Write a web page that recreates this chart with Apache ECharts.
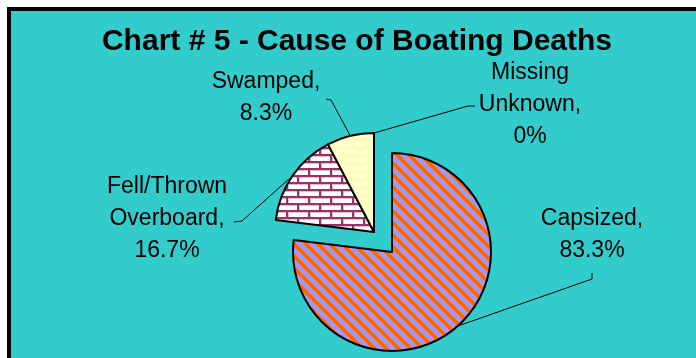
<!DOCTYPE html>
<html>
<head>
<meta charset="utf-8">
<script src="https://cdn.jsdelivr.net/npm/echarts@6/dist/echarts.min.js"></script>
<style>
html,body{margin:0;padding:0;background:#fff;}
#chart{width:696px;height:358px;}
</style>
</head>
<body>
<div id="chart"></div>
<script>
// ---- data ----
var titleText = 'Chart # 5 - Cause of Boating Deaths';
var categories = ['Capsized', 'Fell/Thrown\nOverboard', 'Swamped', 'Missing\nUnknown'];
var counts = [10, 2, 1, 0];
var percentLabels = ['83.3%', '16.7%', '8.3%', '0%'];
var explodedIndex = 0;

// ---- patterns ----
function makeCanvas(w, h) {
  var c = document.createElement('canvas');
  c.width = w; c.height = h;
  return c;
}
function stripePattern() {
  var n = 12, c = makeCanvas(n, n), ctx = c.getContext('2d');
  var img = ctx.createImageData(n, n);
  for (var y = 0; y < n; y++) for (var x = 0; x < n; x++) {
    var d = ((x - y) % n + n) % n;
    var o = (y * n + x) * 4;
    if (d < 5) { img.data[o] = 255; img.data[o+1] = 102; img.data[o+2] = 0; }
    else { img.data[o] = 153; img.data[o+1] = 153; img.data[o+2] = 255; }
    img.data[o+3] = 255;
  }
  ctx.putImageData(img, 0, 0);
  return c;
}
function brickPattern() {
  var w = 22, h = 14, c = makeCanvas(w, h), ctx = c.getContext('2d');
  ctx.fillStyle = '#ffffff'; ctx.fillRect(0, 0, w, h);
  ctx.fillStyle = '#e3bcd3';
  ctx.fillRect(0, 2, w, 1); ctx.fillRect(0, 9, w, 1);
  ctx.fillRect(2, 0, 1, 7); ctx.fillRect(13, 7, 1, 7);
  ctx.fillStyle = '#993366';
  ctx.fillRect(0, 0, w, 2); ctx.fillRect(0, 7, w, 2);
  ctx.fillRect(0, 0, 2, 7); ctx.fillRect(11, 7, 2, 7);
  return c;
}
function zigzagPattern() {
  var w = 12, h = 8, c = makeCanvas(w, h), ctx = c.getContext('2d');
  ctx.fillStyle = '#ffffd4'; ctx.fillRect(0, 0, w, h);
  ctx.strokeStyle = '#ffff99'; ctx.lineWidth = 1.5;
  ctx.beginPath(); ctx.moveTo(0, 6); ctx.lineTo(6, 2); ctx.lineTo(12, 6); ctx.stroke();
  return c;
}
var fills = [
  {image: stripePattern(), repeat: 'repeat'},
  {image: brickPattern(), repeat: 'repeat'},
  {image: zigzagPattern(), repeat: 'repeat'},
  '#ffffcc'
];

// label placement (layout only)
var labelPos = [[592, 235], [167, 219], [266, 98], [530, 105]];
var guideTail = [
  [[592, 279], [592, 273]],
  [[242, 221], [234, 222]],
  [[331, 100], [326, 99]],
  [[468, 106], [475, 106]]
];

function buildData(showExploded) {
  return categories.map(function (name, i) {
    var visible = (i === explodedIndex) === showExploded;
    return {
      name: name,
      value: counts[i],
      itemStyle: visible
        ? {color: fills[i], borderColor: '#000', borderWidth: 2}
        : {color: 'rgba(0,0,0,0)', borderWidth: 0},
      label: {show: visible},
      labelLine: {show: visible}
    };
  });
}

function pieSeries(center, showExploded) {
  return {
    type: 'pie',
    center: center,
    radius: 99,
    startAngle: 90,
    clockwise: true,
    avoidLabelOverlap: false,
    minShowLabelAngle: 0,
    silent: true,
    emphasis: {disabled: true},
    label: {
      position: 'outside',
      formatter: function (p) { return p.name + ',\n' + percentLabels[p.dataIndex]; },
      fontFamily: 'Liberation Sans', fontSize: 23, lineHeight: 32, color: '#000',
      align: 'center'
    },
    labelLine: {length: 10, length2: 10, smooth: false, lineStyle: {color: '#000', width: 1}},
    labelLayout: function (params) {
      var i = params.dataIndex;
      var pts = params.labelLinePoints;
      var start = pts && pts[0] ? pts[0] : null;
      var out = {
        x: labelPos[i][0], y: labelPos[i][1],
        align: 'center', verticalAlign: 'middle',
        hideOverlap: false, moveOverlap: null
      };
      if (start) out.labelLinePoints = [start, guideTail[i][0], guideTail[i][1]];
      return out;
    },
    data: buildData(showExploded)
  };
}

var chart = echarts.init(document.getElementById('chart'), null, {renderer: 'canvas'});
chart.setOption({
  animation: false,
  backgroundColor: '#ffffff',
  graphic: [{
    type: 'rect', z: 0, silent: true,
    shape: {x: 9, y: 9, width: 720, height: 380},
    style: {fill: '#33CCCC', stroke: '#000000', lineWidth: 4}
  }],
  title: {
    text: titleText,
    left: 357, top: 27, textAlign: 'center', padding: 0,
    textStyle: {fontFamily: 'Liberation Sans', fontWeight: 'bold', fontSize: 30, color: '#000'}
  },
  series: [
    pieSeries([374, 232], false),
    pieSeries([392, 252], true)
  ]
});
</script>
</body>
</html>
